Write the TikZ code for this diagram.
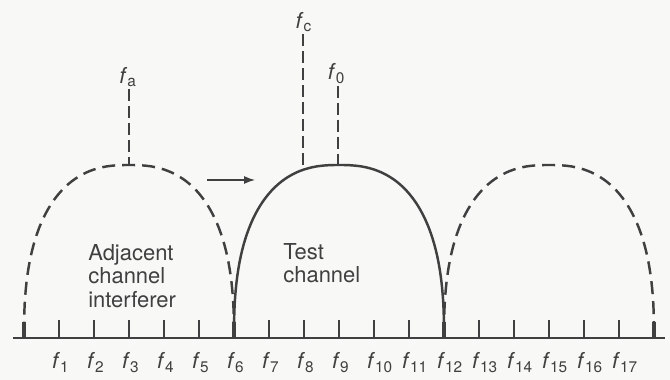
\documentclass[tikz,border=0pt]{standalone}
\usepackage{fontspec}
\setmainfont{TeX Gyre Heros}
\usetikzlibrary{arrows.meta, positioning}
\definecolor{InkGray}{RGB}{64,64,64}
\definecolor{PaperWhite}{RGB}{248,248,246}
\newcommand{\fsub}[1]{\textit{f}\textsubscript{#1}}

\begin{document}
\begin{tikzpicture}[
    ink/.style={InkGray, line width=1.4pt},
    gapline/.style={dash pattern=on 0.26cm off 0.14cm},
    lbl/.style={font=\fontsize{12.5}{14}\selectfont, text=InkGray, inner sep=1pt},
    note/.style={font=\fontsize{12.5}{13.4}\selectfont, text=InkGray, align=left, inner sep=0pt}
  ]
  \fill[PaperWhite] (0,-0.84) rectangle (13.4,6.76);
  \useasboundingbox (0,-0.84) rectangle (13.4,6.76);
  % frequency axis and channel ticks
  \draw[InkGray, line width=0.9pt] (0.26,0) -- (13.3,0);
  \foreach \k in {1,...,17}{
    \draw[InkGray, line width=0.75pt] (0.48+0.7*\k,0) -- ++(0,0.36);
    \node[lbl, anchor=base west] (f\k) at (0.3+0.7*\k,-0.62) {\fsub{\k}};
  }
  \foreach \k in {0,6,12,18}
    \draw[InkGray, line width=1.8pt] (0.48+0.7*\k,0) -- ++(0,0.32);
  % channel spectra (adjacent, test, adjacent)
  \foreach \cx/\pat in {2.58/gapline, 6.78/solid, 10.98/gapline}
    \draw[ink, \pat] plot[domain=0.5:179.5, samples=80]
      ({\cx + 2.1*sign(cos(\x))*abs(cos(\x))^0.8}, {3.46*abs(sin(\x))^0.8});
  % carrier markers
  \coordinate (peakA) at (2.58,3.46);
  \coordinate (peakO) at (6.76,3.46);
  \coordinate (edgeC) at (6.06,3.36);
  \node[lbl] (fa) at (2.56,5.22) {\fsub{a}};
  \node[lbl] (fc) at (6.08,6.31) {\fsub{c}};
  \node[lbl] (fo) at (6.73,5.29) {\fsub{0}};
  \draw[InkGray, line width=0.8pt, dash pattern=on 0.24cm off 0.1cm]
    (fa.south -| peakA) -- (peakA);
  \draw[InkGray, line width=0.8pt, dash pattern=on 0.24cm off 0.1cm]
    (fc.south -| edgeC) -- (edgeC);
  \draw[InkGray, line width=0.8pt, dash pattern=on 0.24cm off 0.1cm]
    (fo.south -| peakO) -- (peakO);
  % shift arrow
  \coordinate (shiftA) at (4.14,3.16);
  \coordinate (shiftB) at (5.1,3.16);
  \draw[InkGray, line width=0.7pt, -{Latex[length=2.2mm, width=1.6mm]}] (shiftA) -- (shiftB);
  % channel names
  \node[note, anchor=north west] (adj) at (1.76,1.88) {Adjacent\\channel\\interferer};
  \node[note, anchor=north west] (test) at (5.66,1.9) {Test\\channel};
\end{tikzpicture}
\end{document}
